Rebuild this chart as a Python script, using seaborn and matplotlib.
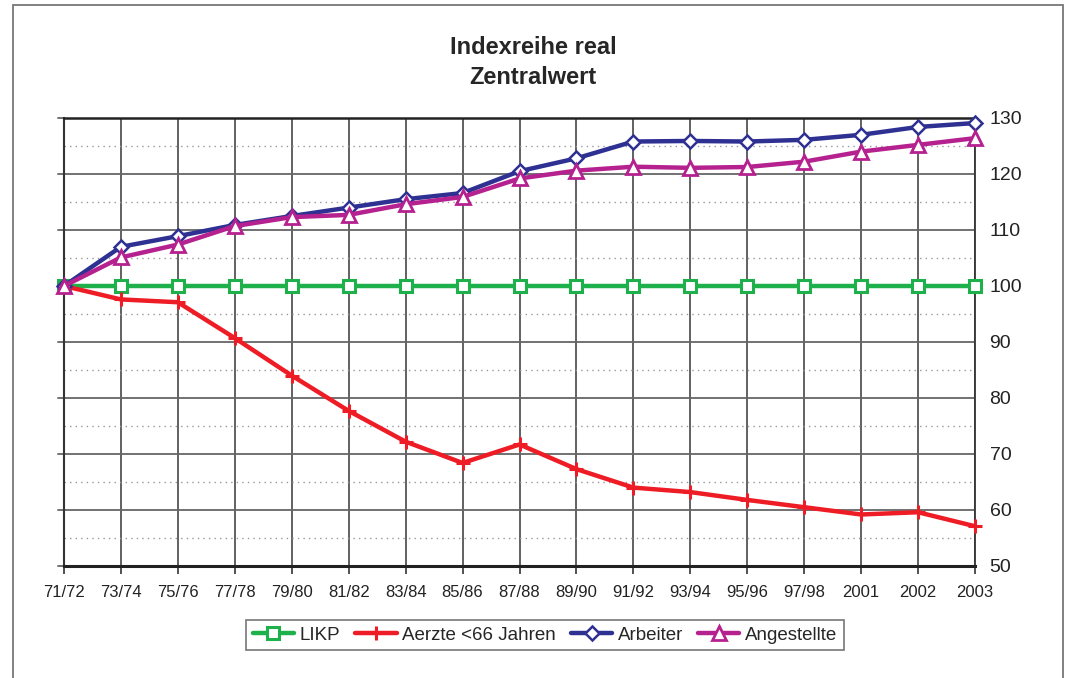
import matplotlib
matplotlib.use("Agg")
from matplotlib import pyplot as plt
from matplotlib.patches import Rectangle
from matplotlib.ticker import MultipleLocator
import seaborn as sns

# data
jahre = ['71/72', '73/74', '75/76', '77/78', '79/80', '81/82', '83/84', '85/86', '87/88',
         '89/90', '91/92', '93/94', '95/96', '97/98', '2001', '2002', '2003']
likp = [100] * 17
aerzte = [100, 97.6, 97.1, 90.7, 84.0, 77.7, 72.2, 68.4, 71.7,
          67.3, 64.0, 63.2, 61.8, 60.5, 59.2, 59.6, 57.1]
arbeiter = [100, 107.0, 108.9, 110.9, 112.5, 114.0, 115.5, 116.6, 120.5,
            122.8, 125.8, 125.9, 125.8, 126.1, 127.0, 128.4, 129.1]
angestellte = [100, 105.1, 107.4, 110.7, 112.3, 112.7, 114.6, 115.9, 119.2,
               120.6, 121.3, 121.1, 121.25, 122.2, 124.0, 125.2, 126.4]

sns.set_style("white")
plt.rcParams['font.family'] = ['Liberation Sans', 'DejaVu Sans']

fig = plt.figure(figsize=(10.7, 6.78), dpi=100)
ax = fig.add_axes([64/1070, 112/678, 911/1070, 448/678])

#outer frame of the picture
fig.patches.append(Rectangle((13/1070, -0.05), 1050/1070, 1.05 - 5/678, transform=fig.transFigure,
                             fill=False, edgecolor='#777777', linewidth=1.3))

serien = [
    ('LIKP', likp, '#1DB04B', 's', 9, 2.2),
    ('Aerzte <66 Jahren', aerzte, '#EE1C25', '+', 10, 2.2),
    ('Arbeiter', arbeiter, '#2E3192', 'D', 7, 1.8),
    ('Angestellte', angestellte, '#B5218F', '^', 10, 2.0),
]
for name, werte, farbe, mk, ms, mew in serien:
    sns.lineplot(x=jahre, y=werte, ax=ax, color=farbe, linewidth=3.2, label=name,
                 marker=mk, markersize=ms, markerfacecolor='white', markeredgecolor=farbe,
                 markeredgewidth=mew, sort=False, clip_on=False, zorder=3)

ax.set_xlim(0, len(jahre) - 1)
ax.set_ylim(50, 130)
ax.yaxis.set_major_locator(MultipleLocator(10))
ax.yaxis.set_minor_locator(MultipleLocator(5))
ax.grid(axis='x', color='#555555', linewidth=1.3, linestyle='-')
ax.grid(axis='y', which='major', color='#666666', linewidth=1.3, linestyle='-')
ax.grid(axis='y', which='minor', color='#999999', linewidth=1.0, linestyle=(0, (1, 3)))
ax.set_axisbelow(True)

ax.yaxis.tick_right()
ax.tick_params(axis='y', which='major', right=False, left=False, labelsize=14, pad=7, colors='#222222')
ax.tick_params(axis='y', which='minor', right=False, left=False)
ax.tick_params(axis='x', bottom=True, length=6, width=1.2, color='#333333', labelsize=12, pad=8,
               labelcolor='#222222')
# short ticks on the left side
for v in range(50, 131, 10):
    ax.plot([-0.1, 0], [v, v], color='#666666', linewidth=1.3, clip_on=False)

for s in ['top', 'left', 'right', 'bottom']:
    ax.spines[s].set_visible(True)
ax.spines['top'].set_color('#222222')
ax.spines['top'].set_linewidth(1.8)
ax.spines['bottom'].set_color('#222222')
ax.spines['bottom'].set_linewidth(2.2)
ax.spines['left'].set_color('#333333')
ax.spines['left'].set_linewidth(1.5)
ax.spines['right'].set_color('#333333')
ax.spines['right'].set_linewidth(1.3)
ax.set_xlabel('')
ax.set_ylabel('')

fig.text(533/1070, 1 - 47/678, 'Indexreihe real', ha='center', va='center', fontsize=17,
         fontweight='bold', family=['Liberation Sans Narrow', 'Liberation Sans', 'DejaVu Sans'])
fig.text(533/1070, 1 - 77/678, 'Zentralwert', ha='center', va='center', fontsize=17,
         fontweight='bold', family=['Liberation Sans Narrow', 'Liberation Sans', 'DejaVu Sans'])

leg = ax.legend(loc='center', bbox_to_anchor=(545/1070, 1 - 635/678), bbox_transform=fig.transFigure,
                ncol=4, fontsize=13.5, frameon=True, fancybox=False, handlelength=2.2,
                handletextpad=0.3, columnspacing=0.8, borderpad=0.35)
leg.get_frame().set_edgecolor('#555555')
leg.get_frame().set_linewidth(1.2)

fig.savefig('out.png', dpi=100, facecolor='white')
